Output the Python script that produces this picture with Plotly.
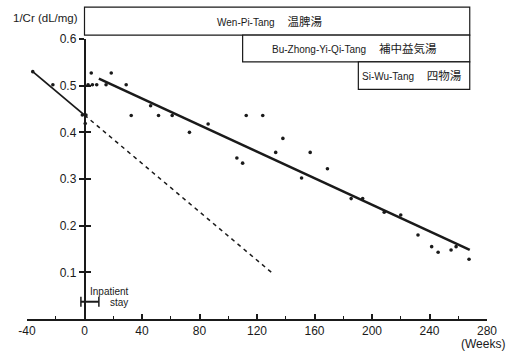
import plotly.graph_objects as go

# Serum creatinine reciprocal over time (weeks)
weeks = [-36, -22, -1.5, 1, 0.5, 2.5, 5.5, 8.5, 15, 29, 4.7, 18.6, 32.5, 46, 51.5,
         61, 73, 86, 106, 110, 112.5, 124, 133, 138, 151, 157, 169, 185.5,
         193.5, 208.5, 220, 232, 241.5, 246, 255, 258.5, 267.5]
inv_cr = [0.530, 0.502, 0.437, 0.437, 0.419, 0.502, 0.502, 0.502, 0.502, 0.502,
          0.527, 0.527, 0.436, 0.457, 0.436, 0.436, 0.400, 0.418, 0.345, 0.334,
          0.436, 0.436, 0.357, 0.387, 0.302, 0.357, 0.322, 0.258, 0.258, 0.229,
          0.223, 0.180, 0.155, 0.143, 0.148, 0.155, 0.128]

# Trend lines
pre_weeks, pre_vals = [-36, 0], [0.530, 0.437]
proj_weeks, proj_vals = [0, 130], [0.437, 0.100]
post_weeks, post_vals = [10, 268], [0.515, 0.148]

# Inpatient stay interval
stay_weeks = [-2.5, 10]
stay_level = 0.037

# Treatment periods (start week, end week)
treatments = ["Wen-Pi-Tang", "Bu-Zhong-Yi-Qi-Tang", "Si-Wu-Tang"]
treatments_cjk = ["温脾湯", "補中益気湯", "四物湯"]
treat_start = [0, 110, 190.5]
treat_end = [268, 268, 268]

x_ticks = [-40, 0, 40, 80, 120, 160, 200, 240, 280]
x_labels = ["-40", "0", "40", "80", "120", "160", "200", "240", "280"]
y_ticks = [0.1, 0.2, 0.3, 0.4, 0.5, 0.6]

FONT = "Liberation Sans, Arial, Noto Sans CJK JP"
INK = "#1a1a1a"

fig = go.Figure()
fig.add_trace(go.Scatter(x=pre_weeks, y=pre_vals, mode="lines",
                         line=dict(color=INK, width=1.8), hoverinfo="skip"))
fig.add_trace(go.Scatter(x=proj_weeks, y=proj_vals, mode="lines",
                         line=dict(color=INK, width=1.5, dash="4px,4px"), hoverinfo="skip"))
fig.add_trace(go.Scatter(x=post_weeks, y=post_vals, mode="lines",
                         line=dict(color=INK, width=2.6), hoverinfo="skip"))
fig.add_trace(go.Scatter(x=weeks, y=inv_cr, mode="markers",
                         marker=dict(color=INK, size=3.6), cliponaxis=False))
fig.add_trace(go.Scatter(x=stay_weeks, y=[stay_level] * 2, mode="lines+markers",
                         line=dict(color=INK, width=2),
                         marker=dict(symbol="line-ns", size=7,
                                     line=dict(color=INK, width=1.5)),
                         yaxis="y2", hoverinfo="skip"))

# Treatment period boxes stacked above the plot
box_rows = [(1.014, 1.114), (0.918, 1.014), (0.820, 0.918)]
label_x = [129, 188, 228]
for i, (y0, y1) in enumerate(box_rows):
    fig.add_shape(type="rect", xref="x", yref="paper",
                  x0=treat_start[i], x1=treat_end[i], y0=y0, y1=y1,
                  line=dict(color=INK, width=1.2), fillcolor="white", layer="above")
    fig.add_annotation(xref="x", yref="paper", x=label_x[i], y=(y0 + y1) / 2,
                       text=f"{treatments[i]}\u2003 <span style='font-size:11.5px'>{treatments_cjk[i]}</span>",
                       showarrow=False, xanchor="center", yanchor="middle",
                       font=dict(size=10, color=INK, family=FONT))

fig.add_annotation(xref="paper", yref="paper", x=-0.035, y=1.075, text="1/Cr (dL/mg)",
                   showarrow=False, xanchor="left", yanchor="middle",
                   font=dict(size=11.5, color=INK, family=FONT))
fig.add_annotation(xref="paper", yref="paper", x=1.044, y=-0.09, text="(Weeks)",
                   showarrow=False, xanchor="right", yanchor="middle",
                   font=dict(size=12, color=INK, family=FONT))
fig.add_annotation(xref="x", yref="y", x=2.6, y=0.058, text="Inpatient",
                   showarrow=False, xanchor="left", yanchor="middle",
                   font=dict(size=10, color=INK, family=FONT))
fig.add_annotation(xref="x", yref="y", x=31.8, y=0.036, text="stay",
                   showarrow=False, xanchor="right", yanchor="middle",
                   font=dict(size=10, color=INK, family=FONT))

y_pos = (0 - (-40)) / (280 - (-40))
fig.update_layout(
    width=508, height=353,
    margin=dict(l=27, r=21, t=39, b=34),
    paper_bgcolor="white", plot_bgcolor="white",
    showlegend=False,
    font=dict(family=FONT, color=INK, size=12),
    xaxis=dict(range=[-40, 280], tickvals=x_ticks, ticktext=x_labels,
               ticks="inside", ticklen=5,
               tickwidth=1.5, tickcolor=INK, showline=True, linecolor=INK,
               linewidth=1.5, showgrid=False, zeroline=False,
               minor=dict(tickvals=[-20, 20, 60, 100, 140, 180, 220, 260],
                          ticks="inside", ticklen=3, tickcolor=INK, tickwidth=1),
               tickfont=dict(size=12, color=INK)),
    yaxis=dict(range=[0, 0.6], tickvals=y_ticks, tickformat=".1f", ticks="outside",
               ticklen=5, tickwidth=1.5, tickcolor=INK, showline=True,
               linecolor=INK, linewidth=1.5, showgrid=False, zeroline=False,
               anchor="free", position=y_pos, tickfont=dict(size=12, color=INK)),
    yaxis2=dict(range=[0, 0.6], tickvals=y_ticks, ticks="inside", ticklen=5,
                tickwidth=1.5, tickcolor=INK, showticklabels=False, showline=False,
                showgrid=False, zeroline=False, overlaying="y", anchor="free",
                position=y_pos, side="left"),
)

fig.write_html("out.html")
